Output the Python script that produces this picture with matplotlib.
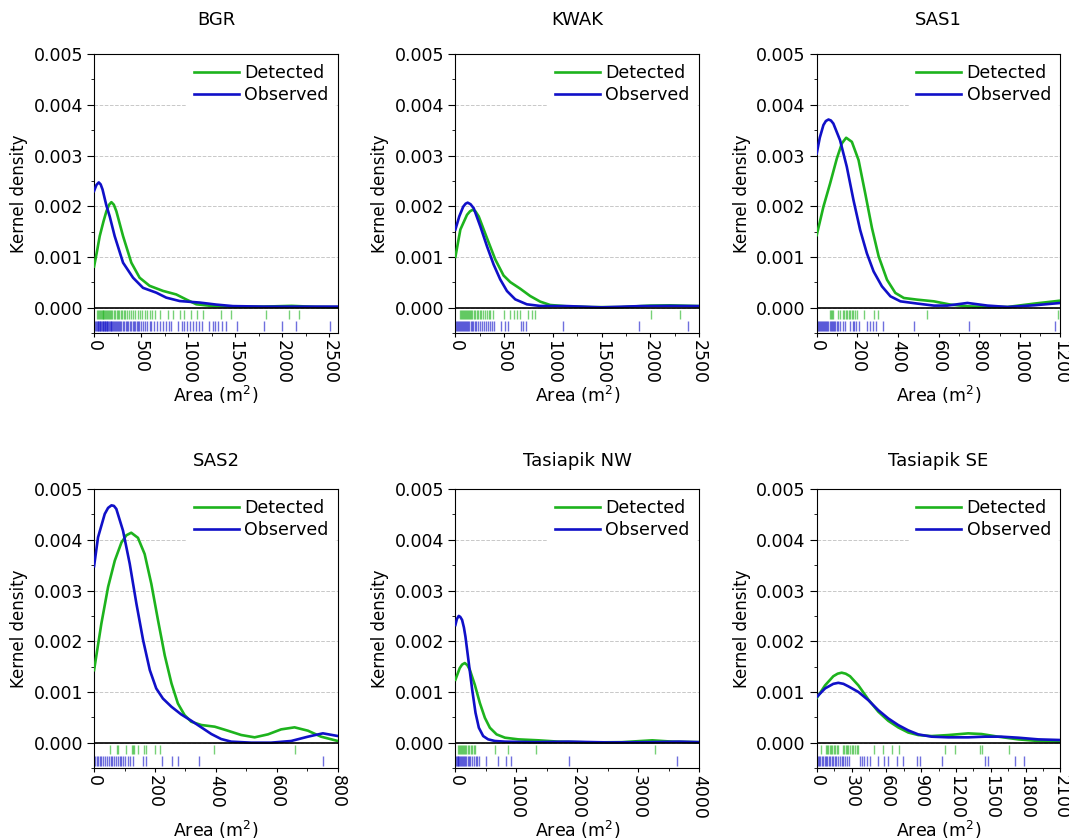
import numpy as np
import matplotlib.pyplot as plt
from matplotlib.ticker import MultipleLocator

GREEN = '#1db31d'
BLUE = '#1010c8'

sites = ['BGR', 'KWAK', 'SAS1', 'SAS2', 'Tasiapik NW', 'Tasiapik SE']
x_max = [2590, 2500, 1200, 800, 4000, 2100]
x_step = [500, 500, 200, 200, 1000, 300]

# kernel density curves (density in units of 1e-3)
bgr_det_x = [0, 30, 60, 100, 131, 160, 184, 210, 237, 308, 396, 484, 590, 732, 873, 980, 1086, 1262, 1500, 1800, 2100, 2350, 2590]
bgr_det_y = [0.81, 1.10, 1.41, 1.70, 1.90, 2.03, 2.08, 2.03, 1.90, 1.41, 0.886, 0.59, 0.43, 0.33, 0.26, 0.16, 0.066, 0.03, 0.02, 0.02, 0.035, 0.015, 0.01]
bgr_obs_x = [0, 25, 50, 70, 90, 130, 166, 219, 308, 414, 520, 661, 767, 909, 1121, 1298, 1475, 1800, 2100, 2590]
bgr_obs_y = [2.30, 2.42, 2.47, 2.43, 2.33, 2.02, 1.80, 1.41, 0.886, 0.59, 0.39, 0.295, 0.197, 0.13, 0.10, 0.06, 0.03, 0.02, 0.02, 0.02]

kwak_det_x = [0, 51, 119, 150, 177, 205, 239, 324, 409, 494, 563, 665, 767, 870, 972, 1143, 1400, 1700, 2000, 2200, 2500]
kwak_det_y = [1.0, 1.54, 1.83, 1.90, 1.93, 1.90, 1.80, 1.37, 0.95, 0.634, 0.503, 0.373, 0.229, 0.118, 0.052, 0.026, 0.01, 0.01, 0.04, 0.045, 0.03]
kwak_obs_x = [0, 40, 80, 105, 126, 155, 188, 256, 324, 392, 460, 529, 614, 733, 870, 1150, 1500, 1900, 2200, 2500]
kwak_obs_y = [1.54, 1.80, 1.99, 2.05, 2.07, 2.04, 1.96, 1.60, 1.21, 0.85, 0.556, 0.327, 0.163, 0.065, 0.033, 0.03, 0.005, 0.03, 0.035, 0.03]

sas1_det_x = [0, 33, 66, 99, 124, 145, 173, 206, 239, 272, 305, 346, 387, 429, 495, 577, 659, 742, 841, 940, 1071, 1200]
sas1_det_y = [1.43, 1.99, 2.45, 2.94, 3.24, 3.35, 3.27, 2.91, 2.25, 1.57, 1.01, 0.55, 0.29, 0.19, 0.157, 0.124, 0.059, 0.026, 0.013, 0.013, 0.079, 0.138]
sas1_obs_x = [0, 15, 33, 45, 58, 70, 82, 115, 148, 181, 214, 247, 280, 321, 363, 412, 495, 577, 643, 742, 841, 940, 1071, 1200]
sas1_obs_y = [3.04, 3.35, 3.60, 3.68, 3.71, 3.69, 3.63, 3.30, 2.78, 2.12, 1.53, 1.07, 0.714, 0.42, 0.223, 0.124, 0.08, 0.04, 0.04, 0.092, 0.04, 0.013, 0.046, 0.092]

sas2_det_x = [0, 24, 46, 68, 90, 106, 122, 144, 166, 188, 210, 232, 254, 275, 297, 319, 352, 396, 439, 483, 527, 571, 614, 658, 702, 745, 800]
sas2_det_y = [1.43, 2.35, 3.07, 3.59, 3.95, 4.09, 4.14, 4.04, 3.72, 3.13, 2.41, 1.72, 1.17, 0.774, 0.544, 0.413, 0.348, 0.315, 0.236, 0.151, 0.105, 0.164, 0.262, 0.302, 0.236, 0.118, 0.033]
sas2_obs_x = [0, 13, 35, 46, 57, 65, 73, 95, 117, 139, 161, 183, 204, 226, 254, 286, 319, 352, 385, 417, 450, 516, 581, 647, 702, 751, 800]
sas2_obs_y = [3.48, 4.05, 4.51, 4.63, 4.68, 4.67, 4.61, 4.18, 3.53, 2.74, 2.02, 1.43, 1.07, 0.87, 0.708, 0.557, 0.433, 0.302, 0.17, 0.072, 0.02, 0.0, 0.0, 0.033, 0.118, 0.184, 0.131]

nw_det_x = [0, 71, 110, 154, 195, 236, 319, 401, 484, 566, 676, 813, 1033, 1363, 1692, 2187, 2736, 3231, 3560, 4000]
nw_det_y = [1.24, 1.47, 1.54, 1.57, 1.53, 1.44, 1.14, 0.784, 0.49, 0.294, 0.163, 0.098, 0.065, 0.046, 0.02, 0.005, 0.01, 0.046, 0.02, 0.01]
nw_obs_x = [0, 25, 55, 80, 110, 140, 165, 220, 275, 330, 385, 456, 538, 648, 813, 1300, 1857, 2500, 3200, 3670, 4000]
nw_obs_y = [2.32, 2.44, 2.50, 2.48, 2.42, 2.27, 2.09, 1.57, 1.05, 0.59, 0.294, 0.13, 0.065, 0.033, 0.02, 0.01, 0.02, 0.005, 0.01, 0.02, 0.01]

se_det_x = [0, 72, 143, 180, 215, 250, 287, 359, 445, 531, 617, 703, 789, 875, 990, 1133, 1305, 1420, 1563, 1736, 1908, 2100]
se_det_y = [0.88, 1.13, 1.31, 1.36, 1.38, 1.36, 1.31, 1.13, 0.85, 0.61, 0.43, 0.30, 0.20, 0.15, 0.13, 0.15, 0.183, 0.17, 0.118, 0.065, 0.033, 0.02]
se_obs_x = [0, 72, 143, 186, 230, 273, 359, 445, 531, 617, 703, 789, 875, 990, 1133, 1305, 1449, 1592, 1736, 1908, 2100]
se_obs_y = [0.90, 1.07, 1.16, 1.18, 1.16, 1.11, 1.0, 0.837, 0.64, 0.477, 0.346, 0.242, 0.163, 0.118, 0.105, 0.105, 0.118, 0.118, 0.098, 0.065, 0.052]

# individual areas (m2) shown as rug ticks
bgr_det_rug = [30, 40, 50, 60, 70, 80, 90, 100, 110, 120, 130, 140, 150, 160, 170, 180, 195, 210, 225, 240, 255, 270,
               285, 300, 315, 330, 346, 370, 395, 416, 440, 470, 487, 510, 540, 558, 590, 611, 650, 699, 787, 840, 910,
               953, 1027, 1094, 1158, 1352, 1458, 1829, 2069, 2182]
bgr_obs_rug = [14, 22, 30, 38, 45, 52, 60, 68, 75, 82, 90, 98, 105, 112, 120, 128, 135, 142, 150, 158, 165, 175, 185,
               195, 205, 215, 225, 235, 245, 255, 265, 275, 290, 305, 320, 335, 350, 365, 380, 395, 410, 425, 440, 455,
               470, 480, 500, 520, 545, 560, 590, 610, 640, 670, 700, 730, 760, 800, 820, 890, 930, 960, 990, 1020,
               1050, 1080, 1110, 1150, 1225, 1260, 1290, 1320, 1360, 1400, 1517, 1808, 1995, 2145, 2509]
kwak_det_rug = [44, 55, 65, 75, 85, 95, 105, 115, 125, 135, 145, 160, 175, 190, 205, 220, 235, 250, 265, 280, 300, 320,
                340, 360, 385, 495, 563, 600, 630, 658, 740, 785, 812, 2002, 2302]
kwak_obs_rug = [10, 20, 30, 40, 50, 60, 70, 80, 90, 100, 110, 120, 130, 140, 155, 170, 185, 200, 215, 230, 250, 270,
                290, 310, 330, 355, 380, 400, 464, 505, 539, 668, 695, 720, 1108, 1883, 2391]
sas1_det_rug = [63, 70, 76, 82, 107, 115, 128, 136, 143, 150, 157, 165, 173, 181, 190, 198, 234, 284, 302, 544, 1188]
sas1_obs_rug = [3, 8, 13, 18, 23, 28, 33, 38, 43, 48, 53, 58, 63, 68, 73, 78, 85, 92, 100, 107, 115, 128, 140, 165,
                178, 186, 195, 206, 250, 264, 277, 293, 326, 481, 750, 1175]
sas2_det_rug = [52, 74, 79, 106, 126, 129, 131, 144, 163, 172, 199, 216, 392, 658]
sas2_obs_rug = [4, 9, 14, 19, 24, 30, 36, 42, 48, 54, 60, 66, 72, 78, 84, 90, 96, 103, 110, 117, 128, 161, 172, 224,
                256, 275, 346, 751]
nw_det_rug = [44, 60, 75, 90, 105, 120, 140, 160, 180, 200, 225, 250, 275, 300, 319, 648, 857, 1319, 3275]
nw_obs_rug = [5, 20, 35, 50, 65, 80, 95, 110, 125, 140, 160, 180, 200, 220, 245, 270, 300, 330, 360, 385, 495, 692,
              830, 912, 1857, 3637]
se_det_rug = [37, 77, 89, 100, 112, 123, 135, 146, 158, 172, 186, 224, 238, 250, 261, 273, 287, 301, 316, 330, 344,
              359, 496, 574, 651, 712, 1104, 1190, 1406, 1420, 1655]
se_obs_rug = [9, 20, 32, 44, 56, 68, 80, 92, 104, 116, 128, 140, 155, 170, 185, 200, 215, 230, 245, 262, 278, 373,
              390, 410, 430, 459, 525, 579, 617, 688, 746, 861, 889, 1081, 1454, 1472, 1707, 1787]

curves = [
    (bgr_det_x, bgr_det_y, bgr_obs_x, bgr_obs_y, bgr_det_rug, bgr_obs_rug),
    (kwak_det_x, kwak_det_y, kwak_obs_x, kwak_obs_y, kwak_det_rug, kwak_obs_rug),
    (sas1_det_x, sas1_det_y, sas1_obs_x, sas1_obs_y, sas1_det_rug, sas1_obs_rug),
    (sas2_det_x, sas2_det_y, sas2_obs_x, sas2_obs_y, sas2_det_rug, sas2_obs_rug),
    (nw_det_x, nw_det_y, nw_obs_x, nw_obs_y, nw_det_rug, nw_obs_rug),
    (se_det_x, se_det_y, se_obs_x, se_obs_y, se_det_rug, se_obs_rug),
]

fig = plt.figure(figsize=(10.69, 8.40), dpi=100)
lefts = [0.088, 0.426, 0.764]
bottoms = [0.6036, 0.0857]
title_pad = [21, 17]
w, h = 0.228, 0.332

for i, site in enumerate(sites):
    det_x, det_y, obs_x, obs_y, det_rug, obs_rug = curves[i]
    ax = fig.add_axes([lefts[i % 3], bottoms[i // 3], w, h])

    ax.plot(det_x, np.array(det_y) * 1e-3, color=GREEN, lw=1.9, label='Detected', zorder=3)
    ax.plot(obs_x, np.array(obs_y) * 1e-3, color=BLUE, lw=1.9, label='Observed', zorder=3)

    ax.vlines(det_rug, -0.00023, -0.00004, color=GREEN, lw=1.0, alpha=0.6)
    ax.vlines(obs_rug, -0.00046, -0.00026, color=BLUE, lw=1.0, alpha=0.6)
    ax.axhline(0, color='black', lw=1.2, zorder=4)

    ax.set_xlim(0, x_max[i])
    ax.set_ylim(-0.0005, 0.005)
    ax.set_yticks([0, 0.001, 0.002, 0.003, 0.004, 0.005])
    ax.yaxis.set_minor_locator(MultipleLocator(0.0005))
    ax.xaxis.set_major_locator(MultipleLocator(x_step[i]))
    ax.xaxis.set_minor_locator(MultipleLocator(x_step[i] / 2))
    ax.yaxis.set_major_formatter(plt.FormatStrFormatter('%.3f'))
    ax.tick_params(axis='both', labelsize=12.5)
    ax.tick_params(axis='y', which='major', length=5, pad=3)
    ax.tick_params(axis='x', which='major', length=3, pad=2, labelrotation=-90)
    ax.tick_params(axis='x', which='minor', length=2)
    ax.grid(axis='y', color='#c8c8c8', linestyle='--', lw=0.7)

    ax.set_title(site, fontsize=13, pad=title_pad[i // 3])
    ax.set_xlabel('Area (m$^{2}$)', fontsize=12.5)
    ax.xaxis.set_label_coords(0.5, -0.183)
    ax.set_ylabel('Kernel density', fontsize=12, labelpad=4)

    leg = ax.legend(loc='upper right', fontsize=12.5, frameon=True, fancybox=False, borderaxespad=0.15,
                    handlelength=2.6, handletextpad=0.3, labelspacing=0.25)
    leg.get_frame().set_edgecolor('none')
    leg.get_frame().set_facecolor('white')
    leg.get_frame().set_alpha(1)

fig.savefig('out.png', dpi=100)
